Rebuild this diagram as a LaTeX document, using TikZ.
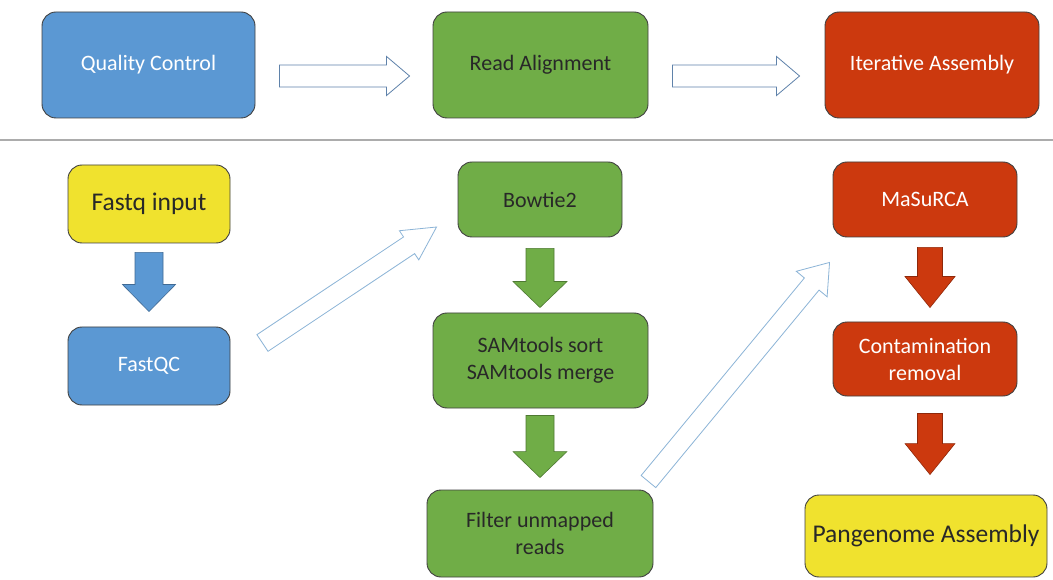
\documentclass[tikz,border=0pt]{standalone}
\usepackage{fontspec}
\setmainfont{Carlito}
\usetikzlibrary{calc}
\definecolor{qblue}{RGB}{91,152,211}
\definecolor{qgreen}{RGB}{112,173,71}
\definecolor{qred}{RGB}{204,57,14}
\definecolor{qyellow}{RGB}{240,226,46}
\definecolor{boxline}{RGB}{64,64,64}
\definecolor{darktext}{RGB}{40,40,40}
\definecolor{hollowtop}{RGB}{95,130,170}
\definecolor{hollowdiag}{RGB}{140,180,215}
\tikzset{
  box/.style={draw=boxline, line width=0.9pt, rounded corners=14pt, align=center, inner sep=0pt, font=\fontsize{22}{27}\selectfont},
  bluebox/.style={box, fill=qblue, text=white},
  greenbox/.style={box, fill=qgreen, text=darktext},
  redbox/.style={box, fill=qred, text=white},
  yellowbox/.style={box, fill=qyellow, text=darktext, font=\fontsize{25.5}{30}\selectfont},
  hollowtopstyle/.style={draw=hollowtop, fill=white, line width=0.8pt, line join=miter},
  hollowdiagstyle/.style={draw=hollowdiag, fill=white, line width=0.8pt, line join=miter},
  bluearrow/.style={fill=qblue, draw=qblue!70!black, line width=0.6pt},
  greenarrow/.style={fill=qgreen, draw=qgreen!70!black, line width=0.6pt},
  redarrow/.style={fill=qred, draw=qred!70!black, line width=0.6pt},
}
% #1 style, #2 start coord, #3 end coord, #4 shaft half width, #5 head half width, #6 head length
\newcommand{\blockarrow}[6]{%
  \coordinate (bah) at ($(#3)!#6!(#2)$);
  \path[#1] ($(#2)!#4!90:(#3)$) -- ($(bah)!#4!90:(#3)$) -- ($(bah)!#5!90:(#3)$) -- (#3)
    -- ($(bah)!#5!-90:(#3)$) -- ($(bah)!#4!-90:(#3)$) -- ($(#2)!#4!-90:(#3)$) -- cycle;}
\begin{document}
\begin{tikzpicture}[x=1pt,y=-1pt]
\useasboundingbox[fill=white] (0,0) rectangle (1053,580);

% top row
\node[bluebox, minimum width=213pt, minimum height=106pt] (qc) at (148.5,65) {Quality Control};
\node[greenbox, minimum width=215pt, minimum height=106pt] (ra) at (540.5,65) {Read Alignment};
\node[redbox, minimum width=214pt, minimum height=106pt] (ia) at (932,65) {Iterative Assembly};

% divider
\coordinate (dl) at (0,140);
\coordinate (dr) at (1053,140);
\draw[gray!65, line width=1.3pt] (dl) -- (dr);

% bottom boxes
\node[yellowbox, minimum width=162pt, minimum height=78pt] (fastq) at (149,204) {Fastq input};
\node[bluebox, minimum width=162pt, minimum height=78pt] (fastqc) at (149,366) {FastQC};
\node[greenbox, minimum width=164pt, minimum height=75pt] (bowtie) at (540,199.5) {Bowtie2};
\node[greenbox, minimum width=215pt, minimum height=95pt] (sam) at (540.5,360.5) {SAMtools sort\\SAMtools merge};
\node[greenbox, minimum width=226pt, minimum height=87pt] (filter) at (540,533.5) {Filter unmapped\\reads};
\node[redbox, minimum width=184pt, minimum height=75pt] (masurca) at (925,199.5) {MaSuRCA};
\node[redbox, minimum width=184pt, minimum height=74pt] (contam) at (925,359) {Contamination\\removal};
\node[yellowbox, minimum width=242pt, minimum height=82pt] (pan) at (926,536) {Pangenome Assembly};

% top hollow arrows
\coordinate (t1s) at ($(qc.east)+(24,11)$);
\coordinate (t1e) at ($(ra.west)+(-23,11)$);
\coordinate (t2s) at ($(ra.east)+(24,11)$);
\coordinate (t2e) at ($(ia.west)+(-25,11)$);
\blockarrow{hollowtopstyle}{t1s}{t1e}{11pt}{19.5pt}{23pt}
\blockarrow{hollowtopstyle}{t2s}{t2e}{11pt}{19.5pt}{23pt}

% diagonal hollow arrows
\coordinate (d1s) at ($(fastqc.east)+(32,-23)$);
\coordinate (d1e) at ($(bowtie.west)+(-21,27.5)$);
\coordinate (d2s) at ($(filter.north east)+(-5,-8)$);
\coordinate (d2e) at ($(masurca.south west)+(-3,25)$);
\blockarrow{hollowdiagstyle}{d1s}{d1e}{10pt}{17.5pt}{33pt}
\blockarrow{hollowdiagstyle}{d2s}{d2e}{9.5pt}{20pt}{28pt}

% down block arrows
\coordinate (b1s) at ($(fastq.south)+(0,9)$);
\coordinate (b1e) at ($(fastqc.north)+(0,-15)$);
\blockarrow{bluearrow}{b1s}{b1e}{14pt}{26.5pt}{27pt}
\coordinate (g1s) at ($(bowtie.south)+(0,11)$);
\coordinate (g1e) at ($(sam.north)+(-0.5,-5)$);
\blockarrow{greenarrow}{g1s}{g1e}{14pt}{27pt}{26pt}
\coordinate (g2s) at ($(sam.south)+(-0.5,7)$);
\coordinate (g2e) at ($(filter.north)+(0,-12)$);
\blockarrow{greenarrow}{g2s}{g2e}{14pt}{27pt}{26pt}
\coordinate (r1s) at ($(masurca.south)+(5,10)$);
\coordinate (r1e) at ($(contam.north)+(5,-14)$);
\blockarrow{redarrow}{r1s}{r1e}{12.5pt}{25pt}{31pt}
\coordinate (r2s) at ($(contam.south)+(5,17)$);
\coordinate (r2e) at ($(pan.north)+(4,-20)$);
\blockarrow{redarrow}{r2s}{r2e}{12.5pt}{25pt}{31pt}
\end{tikzpicture}
\end{document}
